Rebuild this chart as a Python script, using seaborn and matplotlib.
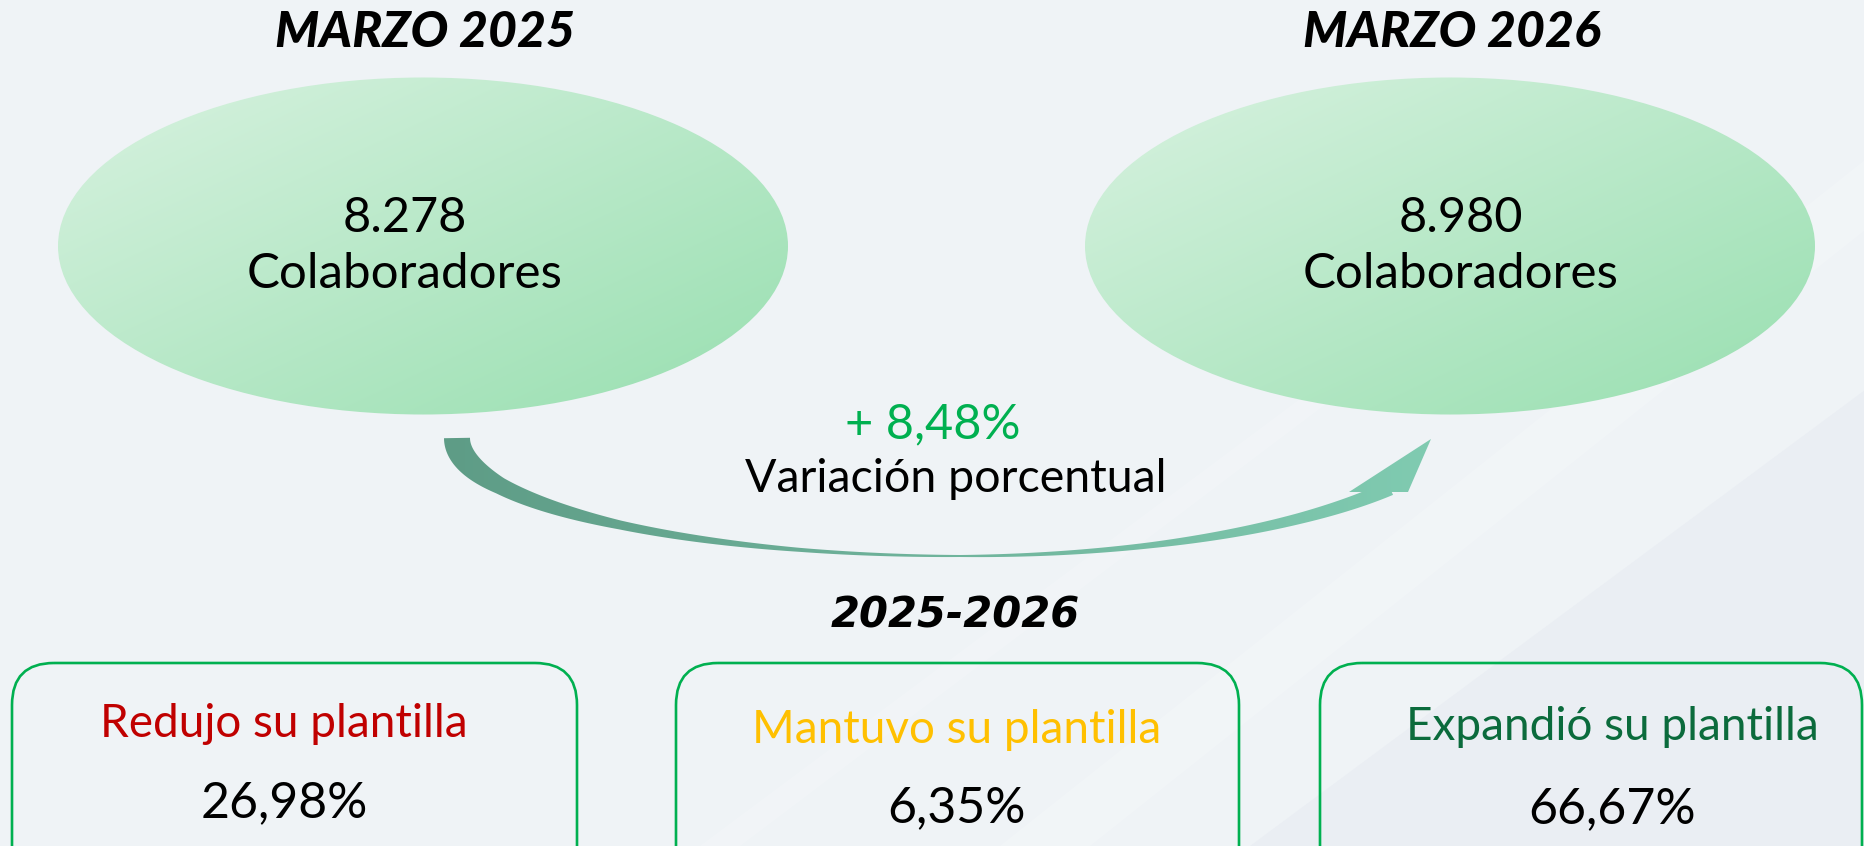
import numpy as np
import matplotlib
matplotlib.use("Agg")
import matplotlib.pyplot as plt
import seaborn as sns
from matplotlib.patches import Ellipse, Polygon, FancyBboxPatch
from matplotlib.colors import LinearSegmentedColormap

# Data
years = ["MARZO 2025", "MARZO 2026"]
headcount = [8278, 8980]
variation = 8.48
period = "2025-2026"
groups = ["Redujo su plantilla", "Mantuvo su plantilla", "Expandió su plantilla"]
shares = [26.98, 6.35, 66.67]
group_colors = ["#C00000", "#FFC000", "#0B6B3C"]

sns.set_theme(style="white")
plt.rcParams['font.family'] = ['Lato', 'DejaVu Sans']

W, H = 1865, 846
fig = plt.figure(figsize=(W / 100, H / 100), dpi=100)
fig.patch.set_facecolor('#EFF3F6')
ax = fig.add_axes([0, 0, 1, 1])
ax.set_xlim(0, W)
ax.set_ylim(H, 0)
ax.axis('off')
ax.set_facecolor('#EFF3F6')

# soft diagonal streaks in the background
for pts, col, a in [
    ([(1000, 846), (1865, 160), (1865, 230), (1090, 846)], 'white', 0.18),
    ([(1250, 846), (1865, 390), (1865, 846)], '#E4E8F0', 0.45),
    ([(700, 846), (1500, 250), (1530, 250), (740, 846)], 'white', 0.15),
]:
    ax.add_patch(Polygon(pts, closed=True, facecolor=col, edgecolor='none', alpha=a, zorder=0))

# ellipses with diagonal green gradient
ell_cmap = LinearSegmentedColormap.from_list('ell', ['#D8F2E0', '#98DFB0'])
gx, gy = np.meshgrid(np.linspace(0, 1, 200), np.linspace(0, 1, 200))
grad = (gx + gy) / 2
ell_centers = [(423, 246), (1450, 246)]
for (cx, cy), year, n in zip(ell_centers, years, headcount):
    e = Ellipse((cx, cy), 730, 337, facecolor='none', edgecolor='none')
    ax.add_patch(e)
    im = ax.imshow(grad, cmap=ell_cmap, extent=(cx - 365, cx + 365, cy + 169, cy - 169),
                   aspect='auto', zorder=1, interpolation='bilinear')
    im.set_clip_path(e)
    ax.text(cx + 2, 47, year, ha='center', va='baseline', fontsize=36,
            fontweight='black', fontstyle='italic', color='black', zorder=3)
    label = f"{n:,}".replace(",", ".")
    tx = cx - 18 if cx < 900 else cx + 11
    ax.text(tx, 232, label, ha='center', va='baseline', fontsize=35, color='black', zorder=3)
    ax.text(tx, 288, "Colaboradores", ha='center', va='baseline', fontsize=35.5, color='black', zorder=3)

# curved arrow: left half and right half are two elliptic arcs meeting at the bottom
acx = 960
th_l = np.linspace(np.pi, 1.5 * np.pi, 200)
xl = acx + 503 * np.cos(th_l)
yl = 438 - 118 * np.sin(th_l)
th_r_end = 2 * np.pi - np.arccos((1390 - acx) / 516)
th_r = np.linspace(1.5 * np.pi, th_r_end, 200)[1:]
xr = acx + 516 * np.cos(th_r)
yr = 404 - 152 * np.sin(th_r)
xs = np.concatenate([xl, xr])
ys = np.concatenate([yl, yr])
wid = np.interp(xs, [457, 500, 620, 800, 960, 1150, 1300, 1390],
                [26, 17, 9, 4, 2, 6, 11, 15])
dx = np.gradient(xs)
dy = np.gradient(ys)
nrm = np.hypot(dx, dy)
nx, ny = -dy / nrm, dx / nrm
upper = np.column_stack([xs + nx * wid / 2, ys + ny * wid / 2])
lower = np.column_stack([xs - nx * wid / 2, ys - ny * wid / 2])
shaft = Polygon(np.vstack([upper, lower[::-1]]), closed=True, facecolor='none', edgecolor='none')
head = Polygon([(1349, 492), (1431, 439), (1408, 492)], closed=True, facecolor='none', edgecolor='none')
arr_cmap = LinearSegmentedColormap.from_list('arr', ['#5E9C86', '#80CBB1'])
hgrad = np.tile(np.linspace(0, 1, 300), (10, 1))
for p in (shaft, head):
    ax.add_patch(p)
    im = ax.imshow(hgrad, cmap=arr_cmap, extent=(440, 1435, 570, 430), aspect='auto',
                   zorder=2, interpolation='bilinear')
    im.set_clip_path(p)

var_txt = "+ " + f"{variation:.2f}".replace(".", ",") + "%"
ax.text(933, 438, var_txt, ha='center', va='baseline', fontsize=35, color='#00B050', zorder=3)
ax.text(956, 492, "Variación porcentual", ha='center', va='baseline', fontsize=33.5, color='black', zorder=3)
ax.text(955, 628, period, ha='center', va='baseline', fontsize=30, fontweight='bold',
        fontstyle='italic', family='DejaVu Sans', color='black', zorder=3)

# bottom boxes (cut by the lower edge of the figure)
box_x = [(12, 577), (676, 1239), (1320, 1862)]
text_x = [284, 957, 1612]
label_base = [737, 743, 740]
pct_base = [817, 822, 823]
for (x0, x1), txx, lb, pb, g, v, c in zip(box_x, text_x, label_base, pct_base, groups, shares, group_colors):
    ax.add_patch(FancyBboxPatch((x0, 663), x1 - x0, 240, boxstyle="round,pad=0,rounding_size=42",
                                facecolor='none', edgecolor='#00B050', linewidth=1.9, zorder=2))
    ax.text(txx, lb, g, ha='center', va='baseline', fontsize=33, color=c, zorder=3)
    ax.text(txx, pb, f"{v:.2f}".replace(".", ",") + "%", ha='center', va='baseline',
            fontsize=36, color='black', zorder=3)

fig.savefig('out.png', dpi=100, facecolor=fig.get_facecolor())
